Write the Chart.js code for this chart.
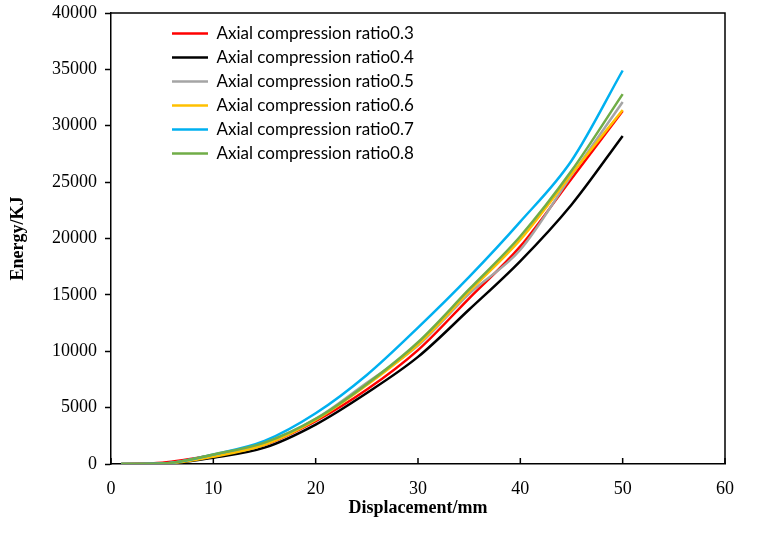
<!DOCTYPE html>
<html>
<head>
<meta charset="utf-8">
<script src="https://cdn.jsdelivr.net/npm/chart.js@4.4.0/dist/chart.umd.min.js"></script>
<style>
  html, body { margin: 0; padding: 0; background: #ffffff; }
  #wrap { width: 757px; height: 539px; position: relative; }
</style>
</head>
<body>
<div id="wrap"><canvas id="c"></canvas></div>
<script>
// ---- data ----
const displacement = [1, 5, 10, 15, 20, 25, 30, 35, 40, 45, 50];
const seriesLabels = [
  'Axial compression ratio0.3',
  'Axial compression ratio0.4',
  'Axial compression ratio0.5',
  'Axial compression ratio0.6',
  'Axial compression ratio0.7',
  'Axial compression ratio0.8'
];
const ratio03 = [0, 110, 780, 1700, 3800, 6600, 10100, 14700, 19300, 25300, 31300];
const ratio04 = [0, 30, 560, 1450, 3500, 6300, 9500, 13700, 18000, 23000, 29100];
const ratio05 = [0, 40, 800, 1850, 4000, 7200, 10500, 15100, 19000, 25600, 32100];
const ratio06 = [0, 30, 650, 1700, 3900, 7000, 10600, 15300, 19900, 25700, 31400];
const ratio07 = [0, 40, 850, 2050, 4500, 7900, 12100, 16600, 21500, 26900, 34900];
const ratio08 = [0, 40, 850, 1900, 4000, 7100, 10800, 15500, 20200, 26000, 32800];
const seriesValues = [ratio03, ratio04, ratio05, ratio06, ratio07, ratio08];
const seriesColors = ['#FF0000', '#000000', '#A5A5A5', '#FFC000', '#00B0F0', '#70AD47'];
const xTicks = [0, 10, 20, 30, 40, 50, 60];
const yTicks = [0, 5000, 10000, 15000, 20000, 25000, 30000, 35000, 40000];

const datasets = seriesValues.map((vals, i) => ({
  label: seriesLabels[i],
  data: vals.map((v, j) => ({ x: displacement[j], y: v })),
  borderColor: seriesColors[i],
  backgroundColor: seriesColors[i],
  borderWidth: 2.5,
  pointRadius: 0,
  fill: false,
  cubicInterpolationMode: 'monotone',
  order: seriesValues.length - 1 - i
}));

// legend placement, frame, inward x ticks
const framePlugin = {
  id: 'frame',
  afterLayout(chart) {
    const lg = chart.legend;
    if (lg) {
      const ca = chart.chartArea;
      lg.left = ca.left + 54;
      lg.top = ca.top + 5;
    }
  },
  afterDatasetsDraw(chart) {
    const { ctx, chartArea: ca, scales } = chart;
    ctx.save();
    ctx.strokeStyle = '#000';
    ctx.lineWidth = 1.5;
    ctx.beginPath();
    ctx.moveTo(ca.left, ca.top);
    ctx.lineTo(ca.right, ca.top);
    ctx.lineTo(ca.right, ca.bottom);
    ctx.stroke();
    ctx.beginPath();
    scales.x.ticks.forEach(t => {
      const px = scales.x.getPixelForValue(t.value);
      ctx.moveTo(px, ca.bottom);
      ctx.lineTo(px, ca.bottom - 6);
    });
    ctx.stroke();
    ctx.restore();
  }
};

new Chart(document.getElementById('c'), {
  type: 'line',
  data: { datasets },
  plugins: [framePlugin],
  options: {
    responsive: true,
    maintainAspectRatio: false,
    animation: false,
    layout: { padding: { left: 4, top: 13, right: 32, bottom: 16 } },
    plugins: {
      tooltip: { enabled: false },
      legend: {
        position: 'chartArea',
        align: 'start',
        labels: {
          usePointStyle: true,
          pointStyle: 'line',
          pointStyleWidth: 36,
          padding: 7,
          color: '#000',
          font: { family: 'Lato', size: 17 },
          sort: (a, b) => a.datasetIndex - b.datasetIndex
        }
      }
    },
    scales: {
      x: {
        type: 'linear',
        min: 0, max: 60,
        afterBuildTicks(scale) { scale.ticks = xTicks.map(v => ({ value: v })); },
        afterFit(scale) { scale.height = 59; scale.paddingLeft = 0; scale.paddingRight = 0; },
        grid: { display: true, drawOnChartArea: false, drawTicks: false },
        border: { color: '#000', width: 1.5 },
        ticks: {
          color: '#000', padding: 14,
          callback: v => String(v),
          font: { family: 'Liberation Serif', size: 18 }
        },
        title: {
          display: true, text: 'Displacement/mm', color: '#000',
          padding: { top: 0, bottom: 4 },
          font: { family: 'Liberation Serif', size: 18, weight: 'bold' }
        }
      },
      y: {
        type: 'linear',
        min: 0, max: 40000,
        afterBuildTicks(scale) { scale.ticks = yTicks.map(v => ({ value: v })); },
        afterFit(scale) { scale.width = 107; scale.paddingTop = 0; scale.paddingBottom = 0; },
        grid: { display: true, drawOnChartArea: false, drawTicks: true, tickLength: 6, color: '#000', tickWidth: 1.5 },
        border: { color: '#000', width: 1.5 },
        ticks: {
          color: '#000', padding: 8,
          callback: v => String(v),
          font: { family: 'Liberation Serif', size: 18 }
        },
        title: {
          display: true, text: 'Energy/KJ', color: '#000',
          padding: { top: 4, bottom: 4 },
          font: { family: 'Liberation Serif', size: 18, weight: 'bold' }
        }
      }
    }
  }
});
</script>
</body>
</html>
